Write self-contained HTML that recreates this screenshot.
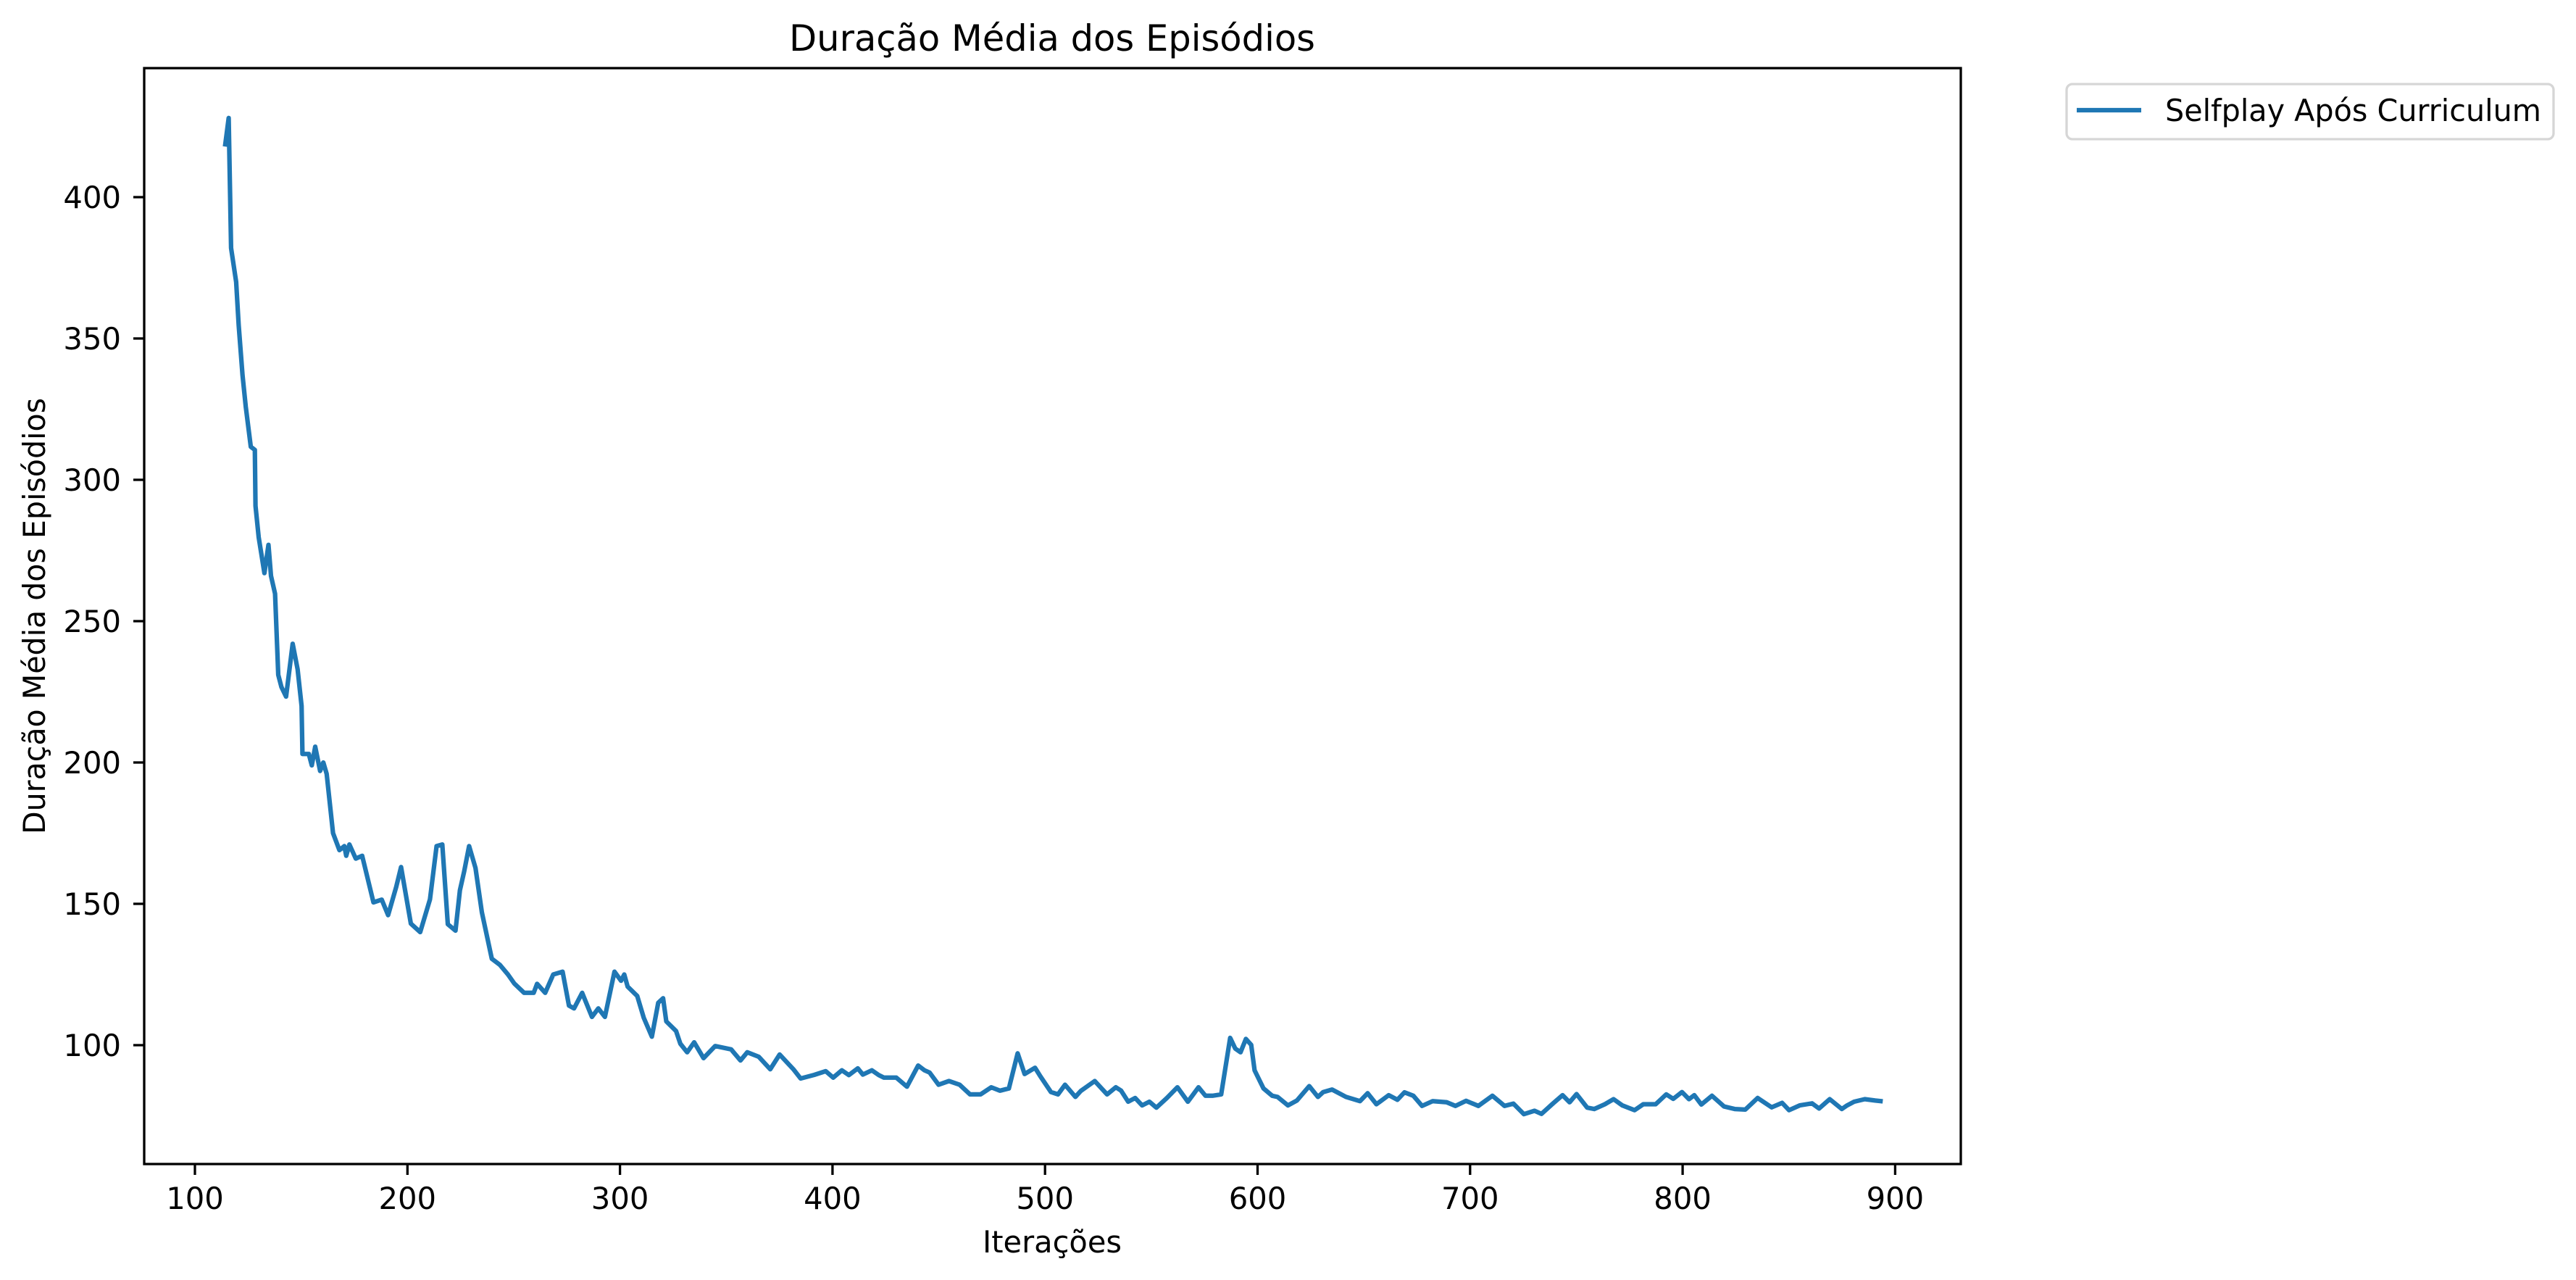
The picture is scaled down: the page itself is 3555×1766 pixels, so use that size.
<!DOCTYPE html>
<html><head><meta charset="utf-8"><style>
html,body{margin:0;padding:0;background:#fff;}
svg{display:block;}
text{font-family:"DejaVu Sans","Liberation Sans",sans-serif;fill:#000;}
</style></head><body>
<svg id="chart" width="3555" height="1766" viewBox="0 0 3555 1766">
<rect x="0" y="0" width="3555" height="1766" fill="#fff"/>
<g id="plot"></g>
<rect x="199" y="94" width="2507" height="1512" fill="none" stroke="#000" stroke-width="3.3"/>
<g id="xticks"></g>
<g id="yticks"></g>
<text x="1452" y="70" font-size="50" text-anchor="middle" textLength="726" lengthAdjust="spacingAndGlyphs">Duração Média dos Episódios</text>
<text x="1452" y="1728" font-size="41.7" text-anchor="middle" textLength="192" lengthAdjust="spacingAndGlyphs">Iterações</text>
<text transform="translate(62,850) rotate(-90)" font-size="41.7" text-anchor="middle" textLength="602" lengthAdjust="spacingAndGlyphs">Duração Média dos Episódios</text>
<g>
<rect x="2852" y="116" width="672" height="76" rx="8" fill="#fff" stroke="#d6d6d6" stroke-width="3.3"/>
<line x1="2866" y1="152" x2="2955" y2="152" stroke="#1f77b4" stroke-width="6.25"/>
<text x="2988" y="167" font-size="41.7" textLength="519" lengthAdjust="spacingAndGlyphs">Selfplay Após Curriculum</text>
</g>
</svg>
<script>
const iterations = [114.3,115.9,117,119.4,120.6,122.4,123.9,126.3,128.2,128.5,130,132.7,134.6,135.8,137.7,139.2,140.7,142.9,146,148.3,150.2,150.6,153.6,155,156.6,158.9,160.4,162,165,168,170.3,171.2,172.7,175.7,178.7,184,187.9,190.9,194.7,197,201.6,206,210.6,213.7,216.4,219,222.6,224.7,226.7,229,232,235,239.7,243.5,247.3,250.3,254.9,259.4,261,264.8,268.6,273,276,278.4,282.2,286.8,289.8,292.9,297.4,300.5,302,303.6,308.1,311.2,315,318,320.3,321.8,326.4,328.4,331.6,334.9,339.3,344.8,352.3,356.7,359.9,365.3,370.7,375.1,381.6,385,391.4,396.8,400.3,404.4,407.7,411.9,414.3,418.5,421.8,424.2,430,435,440.3,443.3,445.7,449.9,454.8,459.8,464.7,469.7,474.7,478.8,483,487.1,490.4,495.3,497.8,502.8,506.1,509.4,514.3,516.8,523.4,529.2,533.3,535.8,539.1,542.4,545.7,549.1,552.4,557.3,562.3,567.2,572.2,575.5,578.8,582.9,587.1,589.5,592,594.5,597,598.6,602.8,606.9,609.4,614.3,618.5,624.3,628.4,630.9,635,641.6,648.2,651.8,655.9,661.7,665.8,669.1,673.3,677.4,682.4,689,693.1,698.1,703.9,710.5,716.2,720.4,725.3,730.3,733.6,738.6,743.5,746.8,750.1,755.1,758.4,763.4,767.5,771.6,777.4,781.5,787.3,792.3,795.6,799.7,803,805.5,808.8,813.8,819.5,824.5,829.5,835.3,841.9,846.8,850.1,855.1,860.9,864.2,869.2,874.9,877.4,880.7,885.7,890.6,893.1];
const durations = [418.7,428,382,370,354.7,337,326,311.7,310.6,290.8,279.7,267,277,266,259.7,231,226.7,223.3,242,233,220,203,203,199,205.6,197,200,196,175,169,170.4,167,171,166,167,150.5,151.5,146,156,163,143,140,151.6,170.4,171,142.8,140.5,154.8,161.5,170.4,162.7,147,130.6,128.4,125,121.8,118.5,118.5,121.7,118.5,125,126,114,113,118.5,110,113,110,126,122.8,125,120.7,117.4,109.7,103,115,116.6,108.4,105,100.5,97.5,101,95.4,99.7,98.5,94.6,97.5,95.9,91.5,96.7,91.5,88.2,89.5,90.8,88.5,91.1,89.4,91.8,89.6,91.1,89.4,88.5,88.5,85.3,92.8,91.1,90.3,86,87.3,86,82.6,82.6,85.1,83.9,84.7,97.1,89.8,92,89,83.4,82.6,86,81.7,83.8,87.3,82.6,85.1,83.9,80,81.3,78.7,80,77.9,81.3,85.1,80,85.1,82.1,82.1,82.6,102.6,98.8,97.5,102.2,100.1,91.1,84.7,82.1,81.7,78.7,80.4,85.5,81.7,83.4,84.3,81.7,80.2,83,79.1,82.3,80.7,83.3,82.1,78.5,80.2,79.8,78.5,80.3,78.5,82.1,78.5,79.3,75.6,76.8,75.7,79.1,82.3,79.8,82.7,77.9,77.4,79.1,80.9,78.7,77,79.1,79.1,82.6,81,83.4,80.9,82.3,79,82.1,78.3,77.4,77.2,81.3,78,79.6,77,78.7,79.4,77.6,80.9,77.4,78.7,80,80.9,80.4,80.2];
const xTickValues = [100,200,300,400,500,600,700,800,900];
const yTickValues = [100,150,200,250,300,350,400];

const NS = 'http://www.w3.org/2000/svg';
function xScale(v){ return 269 + (v - 100) * 2.933; }
function yScale(v){ return 1442 - (v - 100) * 3.9; }

const plot = document.getElementById('plot');
const pts = iterations.map((it, i) => xScale(it).toFixed(1) + ',' + yScale(durations[i]).toFixed(1)).join(' ');
const line = document.createElementNS(NS, 'polyline');
line.setAttribute('points', pts);
line.setAttribute('fill', 'none');
line.setAttribute('stroke', '#1f77b4');
line.setAttribute('stroke-width', '6.25');
line.setAttribute('stroke-linejoin', 'round');
line.setAttribute('stroke-linecap', 'square');


plot.appendChild(line);

const xg = document.getElementById('xticks');
xTickValues.forEach(v => {
  const x = xScale(v);
  const t = document.createElementNS(NS, 'line');
  t.setAttribute('x1', x); t.setAttribute('x2', x);
  t.setAttribute('y1', 1606); t.setAttribute('y2', 1621);
  t.setAttribute('stroke', '#000'); t.setAttribute('stroke-width', '3.3');
  
  
  xg.appendChild(t);
  const l = document.createElementNS(NS, 'text');
  l.setAttribute('x', x); l.setAttribute('y', 1668);
  l.setAttribute('font-size', '41.7'); l.setAttribute('text-anchor', 'middle');
  l.textContent = v;
  
  
  xg.appendChild(l);
});

const yg = document.getElementById('yticks');
yTickValues.forEach(v => {
  const y = yScale(v);
  const t = document.createElementNS(NS, 'line');
  t.setAttribute('x1', 184); t.setAttribute('x2', 199);
  t.setAttribute('y1', y); t.setAttribute('y2', y);
  t.setAttribute('stroke', '#000'); t.setAttribute('stroke-width', '3.3');
  
  
  yg.appendChild(t);
  const l = document.createElementNS(NS, 'text');
  l.setAttribute('x', 167); l.setAttribute('y', y + 15);
  l.setAttribute('font-size', '41.7'); l.setAttribute('text-anchor', 'end');
  l.textContent = v;
  
  
  yg.appendChild(l);
});
</script>
</body></html>
